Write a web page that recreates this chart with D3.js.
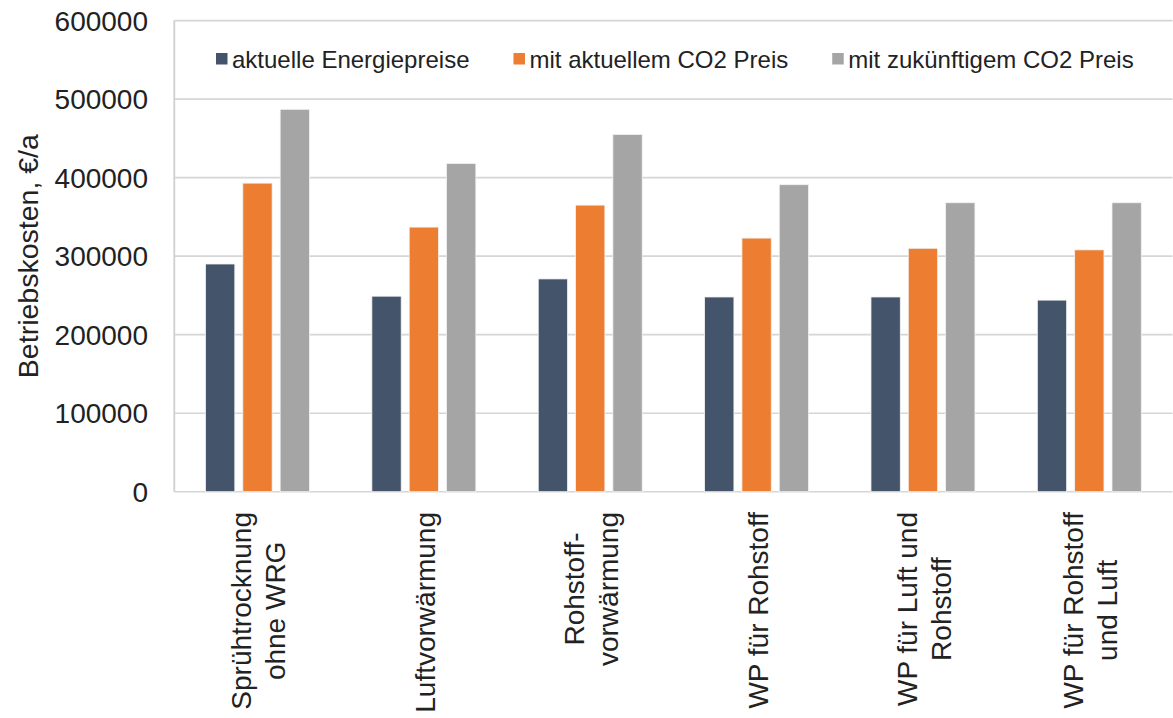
<!DOCTYPE html>
<html>
<head>
<meta charset="utf-8">
<script src="https://cdn.jsdelivr.net/npm/d3@7"></script>
<style>
  html, body { margin: 0; padding: 0; background: #fff; }
  svg { display: block; font-family: "Liberation Sans", Arial, sans-serif; }
</style>
</head>
<body>
<svg id="chart" width="1173" height="718"></svg>
<script>
// Operating costs per drying variant
const categories = [
  ["Sprühtrocknung", "ohne WRG"],
  ["Luftvorwärmung"],
  ["Rohstoff-", "vorwärmung"],
  ["WP für Rohstoff"],
  ["WP für Luft und", "Rohstoff"],
  ["WP für Rohstoff", "und Luft"]
];
const seriesNames = ["aktuelle Energiepreise", "mit aktuellem CO2 Preis", "mit zukünftigem CO2 Preis"];
const currentPrices = [290000, 249000, 271000, 248000, 248000, 244000];
const currentCO2 = [393000, 337000, 365000, 323000, 310000, 308000];
const futureCO2 = [487000, 418000, 455000, 391000, 368000, 368000];
const yTicks = [0, 100000, 200000, 300000, 400000, 500000, 600000];
const colors = ["#44546a", "#ed7d31", "#a5a5a5"];

const seriesValues = [currentPrices, currentCO2, futureCO2];

const svg = d3.select("#chart");
const plot = { left: 174.3, right: 1172.5, top: 20.6, bottom: 491.7 };

const x0 = d3.scaleBand()
  .domain(d3.range(categories.length))
  .range([plot.left, plot.right])
  .padding(0);

const x1 = d3.scaleBand()
  .domain(d3.range(seriesNames.length))
  .range([0, x0.bandwidth()])
  .paddingInner(0.2145)
  .paddingOuter(0.836);

const y = d3.scaleLinear()
  .domain([0, 600000])
  .range([plot.bottom, plot.top]);

// Gridlines
svg.append("g")
  .selectAll("line")
  .data(yTicks)
  .join("line")
  .attr("x1", plot.left)
  .attr("x2", plot.right)
  .attr("y1", d => y(d))
  .attr("y2", d => y(d))
  .attr("stroke", "#d6d6d6")
  .attr("stroke-width", 1.6);

// Y axis line
svg.append("line")
  .attr("x1", plot.left).attr("x2", plot.left)
  .attr("y1", plot.top).attr("y2", plot.bottom)
  .attr("stroke", "#cfcfcf")
  .attr("stroke-width", 1.8);

// Y tick labels
svg.append("g")
  .selectAll("text")
  .data(yTicks)
  .join("text")
  .attr("x", 148)
  .attr("y", d => y(d))
  .attr("dy", "0.36em")
  .attr("text-anchor", "end")
  .attr("font-size", 28)
  .attr("fill", "#222")
  .text(d => d3.format("d")(d));

// Y axis title
svg.append("text")
  .attr("transform", `translate(38,${(plot.top + plot.bottom) / 2}) rotate(-90)`)
  .attr("text-anchor", "middle")
  .attr("font-size", 28.5)
  .attr("fill", "#222")
  .text("Betriebskosten, €/a");

// Bars
const groups = svg.append("g")
  .selectAll("g")
  .data(categories.map((c, i) => i))
  .join("g")
  .attr("transform", i => `translate(${x0(i)},0)`);

groups.selectAll("rect")
  .data(i => seriesValues.map((vals, s) => ({ s, v: vals[i] })))
  .join("rect")
  .attr("x", d => x1(d.s))
  .attr("width", x1.bandwidth())
  .attr("y", d => y(d.v))
  .attr("height", d => y(0) - y(d.v))
  .attr("fill", d => colors[d.s])
  .attr("stroke", "#f2f2f2")
  .attr("stroke-width", 0.8);

// Category labels, rotated, lines centred on the longest line
const labelTop = 512;
const lineGap = 34;
const labelG = svg.append("g");
categories.forEach((lines, i) => {
  const cx = x0(i) + x0.bandwidth() / 2;
  const g = labelG.append("g");
  const texts = lines.map(l => g.append("text")
    .attr("font-size", 28)
    .attr("fill", "#222")
    .attr("text-anchor", "middle")
    .text(l));
  const maxW = d3.max(texts, t => t.node().getComputedTextLength());
  const cy = labelTop + maxW / 2;
  texts.forEach((t, k) => {
    const bx = cx + 11 + (k - (lines.length - 1) / 2) * lineGap;
    t.attr("transform", `translate(${bx},${cy}) rotate(-90)`);
  });
});

// Legend
const legend = svg.append("g").attr("transform", "translate(216,59)");
let lx = 0;
seriesNames.forEach((name, s) => {
  legend.append("rect")
    .attr("x", lx).attr("y", -6)
    .attr("width", 11.5).attr("height", 11.5)
    .attr("fill", colors[s]);
  const t = legend.append("text")
    .attr("x", lx + 16)
    .attr("y", 0)
    .attr("dy", "0.36em")
    .attr("font-size", 24)
    .attr("fill", "#222")
    .text(name);
  lx += 16 + t.node().getComputedTextLength() + 44;
});
</script>
</body>
</html>
